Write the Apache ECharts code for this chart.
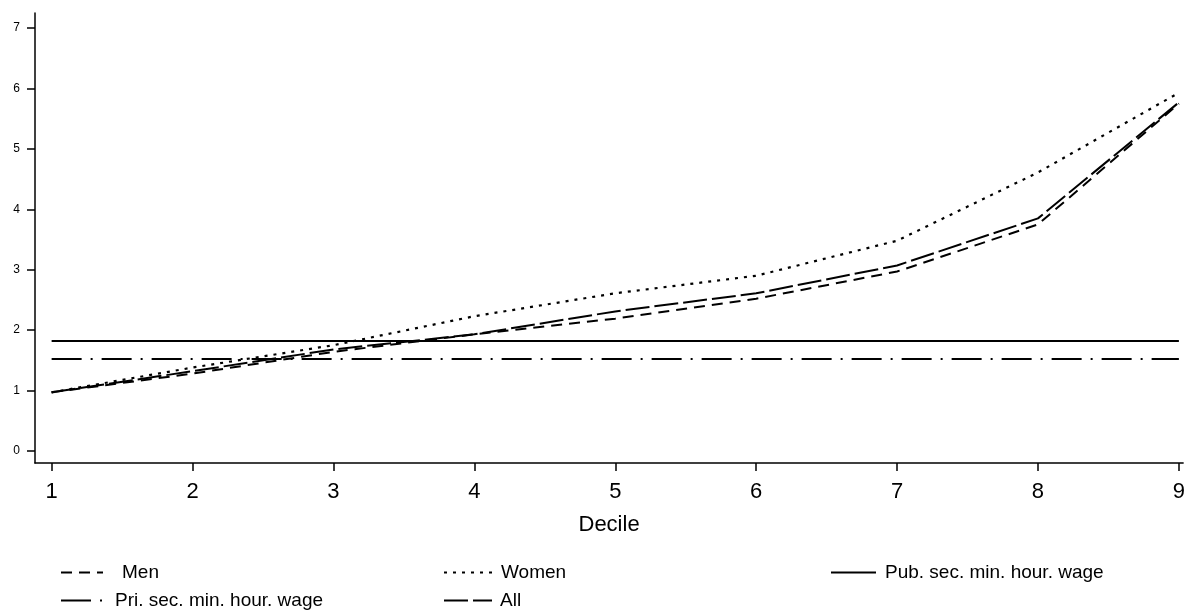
<!DOCTYPE html>
<html><head><meta charset="utf-8">
<script src="https://cdn.jsdelivr.net/npm/echarts@6/dist/echarts.min.js"></script>
<style>html,body{margin:0;padding:0;background:#fff}#c{width:1188px;height:613px}</style>
</head><body><div id="c"></div>
<script>
const deciles = [1,2,3,4,5,6,7,8,9];
const men   = [0.97,1.28,1.64,1.93,2.19,2.52,2.97,3.75,5.75];
const women = [0.97,1.38,1.75,2.23,2.61,2.90,3.48,4.61,5.93];
const all   = [0.97,1.32,1.68,1.93,2.31,2.61,3.07,3.85,5.77];
const pubMinWage = 1.82;
const priMinWage = 1.52;
const yTicks = [0,1,2,3,4,5,6,7];
const xTicks = [1,2,3,4,5,6,7,8,9];
const names = ['Men','Women','Pub. sec. min. hour. wage','Pri. sec. min. hour. wage','All'];

const pair = arr => deciles.map((d,i)=>[d,arr[i]]);
const flat = v => deciles.map(d=>[d,v]);
const font = 'Liberation Sans, Arial, sans-serif';

function ser(name, data, type, w){
  return {name, type:'line', data, symbol:'none', showSymbol:false,
    lineStyle:{color:'#000', width:w||2, type}, itemStyle:{color:'#000'}};
}
const series = [
  ser(names[0], pair(men), [11,7]),
  ser(names[1], pair(women), [3,6], 2.2),
  ser(names[2], flat(pubMinWage), 'solid'),
  ser(names[3], flat(priMinWage), [30,9,2,9]),
  ser(names[4], pair(all), [24,5])
];
function lg(name, left, top, w, pad){
  return {data:[name], left:left, top:top, itemWidth:w, itemHeight:14,
    itemStyle:{opacity:0},
    textStyle:{fontFamily:font, fontSize:19, color:'#000', padding:[0,0,0,pad]},
    selectedMode:false};
}
const chart = echarts.init(document.getElementById('c'));
chart.setOption({
  animation:false,
  backgroundColor:'#fff',
  grid:{left:35, top:13, right:2, bottom:150},
  legend:[
    lg(names[0], 55, 558, 42, 14),
    lg(names[1], 438, 558, 52, 0),
    lg(names[2], 825, 558, 45, 4),
    lg(names[3], 55, 586, 48, 1),
    lg(names[4], 438, 586, 48, 3)
  ],
  xAxis:{type:'value', min:0.882, max:9.03,
    name:'Decile', nameLocation:'middle', nameGap:51,
    nameTextStyle:{fontFamily:font, fontSize:22, color:'#000'},
    axisLine:{show:true, onZero:false, lineStyle:{color:'#000', width:1.5}},
    axisTick:{show:true, customValues:xTicks, length:8, lineStyle:{color:'#000', width:1.5}},
    axisLabel:{customValues:xTicks, fontFamily:font, fontSize:22, color:'#000', margin:18},
    splitLine:{show:false}},
  yAxis:{type:'value', min:-0.2, max:7.25,
    axisLine:{show:true, onZero:false, lineStyle:{color:'#000', width:1.5}},
    axisTick:{show:true, customValues:yTicks, length:8, lineStyle:{color:'#000', width:1.5}},
    axisLabel:{customValues:yTicks, fontFamily:font, fontSize:12, color:'#000', margin:15},
    splitLine:{show:false}},
  series
});
</script></body></html>
